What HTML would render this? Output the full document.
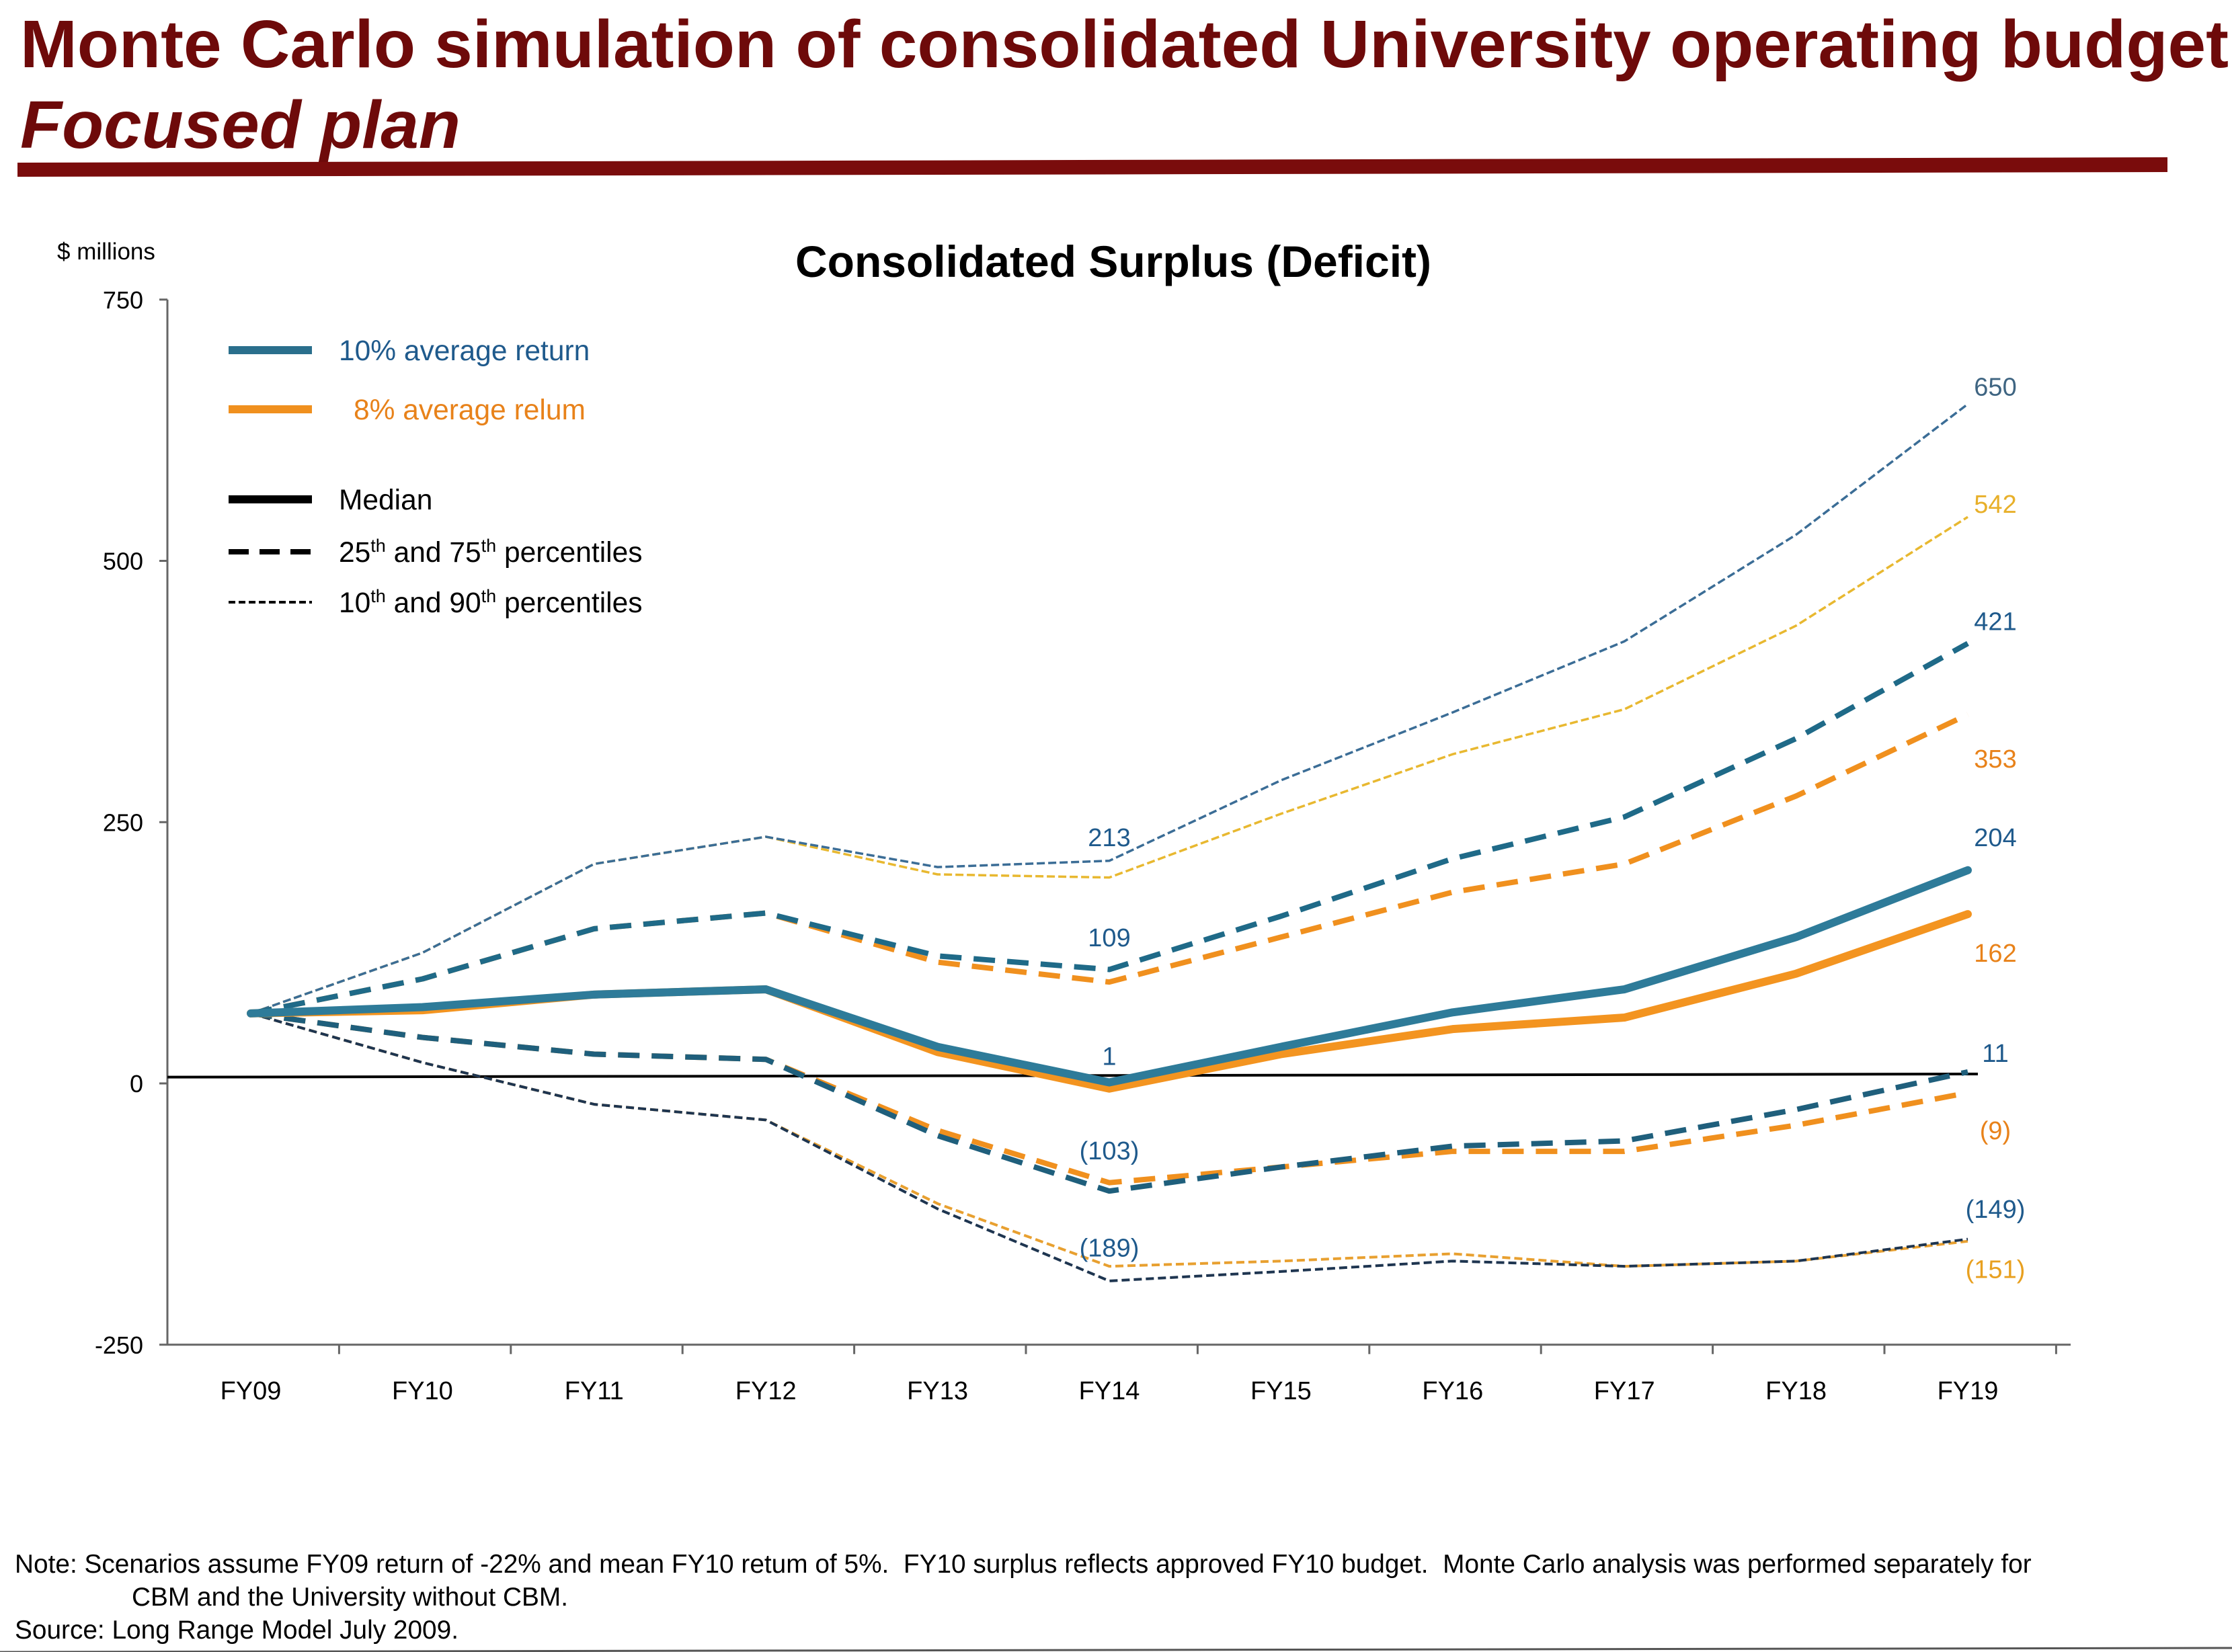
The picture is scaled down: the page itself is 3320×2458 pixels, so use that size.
<!DOCTYPE html>
<html><head><meta charset="utf-8">
<style>
html,body{margin:0;padding:0;background:#fff;}
svg{display:block;font-family:"Liberation Sans",sans-serif;}
.pre{white-space:pre;}
</style></head>
<body>
<svg id="chart" width="3320" height="2458" viewBox="0 0 3320 2458" xmlns="http://www.w3.org/2000/svg">
<text x="30" y="100" font-size="100" font-weight="bold" fill="#6e0a0a" textLength="3285" lengthAdjust="spacingAndGlyphs">Monte Carlo simulation of consolidated University operating budget</text>
<text x="30" y="220" font-size="100" font-weight="bold" font-style="italic" fill="#6e0a0a" textLength="655" lengthAdjust="spacingAndGlyphs">Focused plan</text>
<polygon points="26,242 3224,234 3224,256 26,263" fill="#7a0c0c"/>
<text x="1656" y="412" font-size="66" font-weight="bold" text-anchor="middle" fill="#000">Consolidated Surplus (Deficit)</text>
<text x="85" y="386" font-size="35" fill="#000">$ millions</text>
<g id="axes"></g>
<g id="series"></g>
<g id="labels"></g>
<g font-size="42.5">
<line x1="340" y1="521" x2="464" y2="521" stroke="#2a6f8c" stroke-width="12"/>
<text x="504" y="536" fill="#1f5a8c">10% average return</text>
<line x1="340" y1="609" x2="464" y2="609" stroke="#f0901e" stroke-width="12"/>
<text x="526" y="624" fill="#e8821a">8% average relum</text>
<line x1="340" y1="743" x2="464" y2="743" stroke="#000" stroke-width="12"/>
<text x="504" y="758" fill="#000">Median</text>
<line x1="340" y1="821" x2="464" y2="821" stroke="#000" stroke-width="8" stroke-dasharray="30,16"/>
<text x="504" y="836" fill="#000">25<tspan font-size="27" dy="-15">th</tspan><tspan dy="15"> and 75</tspan><tspan font-size="27" dy="-15">th</tspan><tspan dy="15"> percentiles</tspan></text>
<line x1="340" y1="896" x2="464" y2="896" stroke="#000" stroke-width="4" stroke-dasharray="10,5"/>
<text x="504" y="911" fill="#000">10<tspan font-size="27" dy="-15">th</tspan><tspan dy="15"> and 90</tspan><tspan font-size="27" dy="-15">th</tspan><tspan dy="15"> percentiles</tspan></text>
</g>
<g font-size="38.8" fill="#000">
<text class="pre" x="22" y="2340">Note: Scenarios assume FY09 return of -22% and mean FY10 retum of 5%.  FY10 surplus reflects approved FY10 budget.  Monte Carlo analysis was performed separately for</text>
<text x="196" y="2389">CBM and the University without CBM.</text>
<text x="22" y="2438">Source: Long Range Model July 2009.</text>
</g>
<line x1="0" y1="2458" x2="3320" y2="2452" stroke="#555" stroke-width="3"/>
<script>
const categories=["FY09","FY10","FY11","FY12","FY13","FY14","FY15","FY16","FY17","FY18","FY19"];
const yTicks=[750,500,250,0,-250];
const p90_10=[67,125,210,236,207,213,290,355,423,525,650];
const p90_8=[67,125,210,236,200,197,258,315,358,438,542];
const p75_10=[67,100,148,163,122,109,160,215,255,330,421];
const p75_8=[67,100,148,163,116,97,140,183,210,275,353];
const med_10=[67,73,85,90,35,1,35,68,90,140,204];
const med_8=[67,70,85,90,30,-5,28,52,63,105,162];
const p25_10=[67,44,28,23,-50,-103,-80,-60,-55,-25,11];
const p25_8=[67,44,28,23,-45,-95,-80,-65,-65,-40,-9];
const p10_10=[67,20,-20,-35,-120,-189,-180,-170,-175,-170,-149];
const p10_8=[67,20,-20,-35,-115,-175,-170,-163,-175,-170,-151];
const fy14Labels=["213","109","1","(103)","(189)"];
const endLabels=["650","542","421","353","204","162","11","(9)","(149)","(151)"];

const NS="http://www.w3.org/2000/svg";
const X0=249,XSTEP=255.4,Y0=1612,PPU=1.555;
function xs(i){return X0+124+i*XSTEP;}
function ys(v){return Y0-v*PPU;}
function mk(tag,attrs,parent){const e=document.createElementNS(NS,tag);for(const k in attrs)e.setAttribute(k,attrs[k]);parent.appendChild(e);return e;}
const axes=document.getElementById('axes');
let e=mk('line',{x1:X0,y1:ys(750),x2:X0,y2:ys(-250),stroke:'#666','stroke-width':3},axes);


e=mk('line',{x1:X0,y1:ys(-250),x2:3080,y2:ys(-250),stroke:'#666','stroke-width':3},axes);


yTicks.forEach(v=>{
 mk('line',{x1:X0-12,y1:ys(v),x2:X0,y2:ys(v),stroke:'#666','stroke-width':3},axes);
 const t=mk('text',{x:213,y:ys(v)+13,'font-size':36,'text-anchor':'end',fill:'#000'},axes);
 t.textContent=v;
 
 
});
categories.forEach((c,i)=>{
 mk('line',{x1:X0+(i+1)*XSTEP,y1:ys(-250),x2:X0+(i+1)*XSTEP,y2:ys(-250)+14,stroke:'#666','stroke-width':3},axes);
 const t=mk('text',{x:xs(i),y:2082,'font-size':38,'text-anchor':'middle',fill:'#000'},axes);
 t.textContent=c;
 
 
});
e=mk('line',{x1:X0,y1:ys(6),x2:xs(10)+15,y2:ys(9),stroke:'#000','stroke-width':4},axes);


const ser=document.getElementById('series');
function draw(arr,color,w,dash,name){
 const p=mk('polyline',{points:arr.map((v,i)=>xs(i)+','+ys(v)).join(' '),fill:'none',stroke:color,'stroke-width':w,'stroke-linejoin':'round','stroke-linecap':dash?'butt':'round'},ser);
 if(dash)p.setAttribute('stroke-dasharray',dash);
 
 
}
draw(p90_8,'#e8b830',3.5,'12,5','p90-8pct-line');
draw(p90_10,'#3b6d96',3.5,'12,5','p90-10pct-line');
draw(p10_8,'#e8a030',4,'12,6','p10-8pct-line');
draw(p10_10,'#1e3550',4,'12,6','p10-10pct-line');
draw(p75_8,'#f0901e',8,'32,18','p75-8pct-line');
draw(p75_10,'#1f6a88',8,'32,18','p75-10pct-line');
draw(p25_8,'#f0901e',8,'32,18','p25-8pct-line');
draw(p25_10,'#1f5f7c',8,'32,18','p25-10pct-line');
draw(med_8,'#f39420',12,null,'median-8pct-line');
draw(med_10,'#2e7b99',12,null,'median-10pct-line');
const lab=document.getElementById('labels');
fy14Labels.forEach((s,i)=>{
 const yy=[585,655,738,804,872][i]*2.128+14;
 const t=mk('text',{x:xs(5),y:yy,'font-size':38,'text-anchor':'middle',fill:'#1f5a8c'},lab);
 t.textContent=s;
 
 
});
const endY=[270,352,434,530,585,666,736,790,845,887];
const endC=['#3f6582','#e8b02a','#1f5a8c','#e8821a','#1f5a8c','#e8821a','#1f5a8c','#e8821a','#1f5a8c','#e8a020'];
endLabels.forEach((s,i)=>{
 const t=mk('text',{x:2968,y:endY[i]*2.128+14,'font-size':38,'text-anchor':'middle',fill:endC[i]},lab);
 t.textContent=s;
 
 
});
</script>
</svg>
</body></html>
